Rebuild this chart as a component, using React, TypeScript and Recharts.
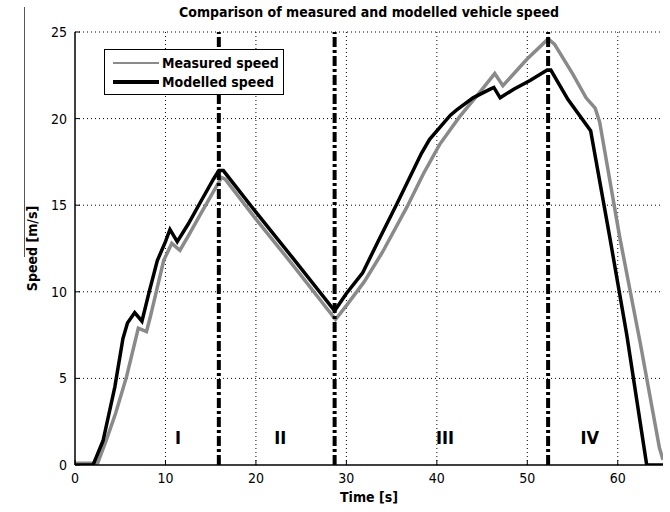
import React from 'react';
import {
  LineChart, Line, XAxis, YAxis, CartesianGrid, ReferenceLine, ReferenceDot,
} from 'recharts';

const measuredTime = [0, 2.5, 3.5, 4.5, 5.7, 7.0, 7.9, 8.3, 9.8, 10.7, 11.6, 12.5, 14, 16.2, 16.6, 20, 24, 28.8, 30, 32, 34, 36.7, 38.5, 40.3, 42.5, 44.4, 46.4, 47.3, 49.9, 52.3, 53, 55, 56.5, 57.5, 58, 60.2, 62.5, 64.6, 65];
const measuredSpeed = [0.1, 0.1, 1.5, 3.0, 5.1, 7.9, 7.7, 8.5, 11.8, 12.8, 12.4, 13.2, 14.6, 16.6, 16.5, 14.2, 11.6, 8.4, 9.2, 10.6, 12.3, 14.9, 16.8, 18.5, 20.1, 21.3, 22.6, 21.9, 23.4, 24.6, 24.3, 22.6, 21.2, 20.6, 19.8, 13.2, 7.0, 1.0, 0.3];

const modelledTime = [0, 2.0, 3.1, 4.4, 5.3, 5.8, 6.6, 7.4, 8.2, 9.1, 10.0, 10.5, 11.3, 12.5, 14.0, 15.3, 15.9, 16.4, 20, 24, 28.7, 30, 31.8, 33.5, 35.6, 37.0, 38.3, 39.2, 40.5, 41.5, 42.2, 44, 45.9, 46.3, 47.0, 48.5, 50.3, 52.2, 52.6, 54.5, 57.0, 59.1, 61, 63.2, 65];
const modelledSpeed = [0, 0, 1.4, 4.5, 7.3, 8.2, 8.8, 8.3, 10.0, 11.8, 12.9, 13.6, 12.9, 13.9, 15.3, 16.5, 17.0, 17.0, 14.6, 12.0, 8.9, 9.9, 11.1, 12.9, 15.1, 16.6, 18.0, 18.8, 19.6, 20.2, 20.5, 21.2, 21.7, 21.8, 21.2, 21.7, 22.2, 22.8, 22.8, 21.1, 19.3, 13.2, 7.5, 0, 0];

const phaseBoundaries = [15.9, 28.7, 52.3];
const phaseLabels = ['I', 'II', 'III', 'IV'];
const phaseLabelTime = [11.4, 22.7, 40.9, 56.9];
const phaseLabelSpeed = 1.6;

const xTicks = [0, 10, 20, 30, 40, 50, 60];
const yTicks = [0, 5, 10, 15, 20, 25];

const measuredData = measuredTime.map((t, i) => ({ t, v: measuredSpeed[i] }));
const modelledData = modelledTime.map((t, i) => ({ t, v: modelledSpeed[i] }));

const FONT = '"Liberation Sans Narrow", "DejaVu Sans Condensed", "Liberation Sans", Arial, sans-serif';

const LegendBox = () => (
  <div style={{
    position: 'absolute', left: 104, top: 49,
    width: 180, height: 46, border: '1px solid #000', background: '#fff',
    fontFamily: FONT, fontWeight: 'bold', fontSize: 14, color: '#000', boxSizing: 'border-box',
    padding: '3px 0 0 8px', zIndex: 2,
  }}>
    <div style={{ display: 'flex', alignItems: 'center', height: 19 }}>
      <svg width={47} height={6}><line x1={0} y1={3} x2={46} y2={3} stroke="#8a8a8a" strokeWidth={2} /></svg>
      <span style={{ marginLeft: 2 }}>Measured speed</span>
    </div>
    <div style={{ display: 'flex', alignItems: 'center', height: 19 }}>
      <svg width={47} height={6}><line x1={0} y1={3} x2={46} y2={3} stroke="#000" strokeWidth={4} /></svg>
      <span style={{ marginLeft: 2 }}>Modelled speed</span>
    </div>
  </div>
);

export default function App() {
  return (
    <div style={{ position: 'relative', width: 670, height: 512, background: '#fff' }}>
      <style>{`body{margin:0;background:#fff}`}</style>
      <div style={{ position: 'absolute', left: 24, top: 7, width: 1, height: 250, background: '#555', zIndex: 2 }} />
      <div style={{
        position: 'absolute', left: 75, width: 588, top: 4, textAlign: 'center',
        fontFamily: FONT, fontWeight: 'bold', fontSize: 14, color: '#000', zIndex: 2,
      }}>
        Comparison of measured and modelled vehicle speed
      </div>
      <LineChart width={670} height={512} margin={{ top: 32, right: 7, bottom: 17, left: 35 }}>
        <CartesianGrid stroke="#000" strokeDasharray="1 3" strokeWidth={1} horizontalValues={yTicks.slice(1)} verticalValues={xTicks.slice(1)} />
        <XAxis
          type="number" dataKey="t" domain={[0, 65]} ticks={xTicks} allowDataOverflow
          height={30} tickLine={{ stroke: '#000' }} tickSize={-5} tickMargin={13}
          axisLine={{ stroke: '#000', strokeWidth: 1.5 }}
          tick={{ fill: '#000', fontSize: 14, fontFamily: FONT }}
          label={{
            content: (p: any) => {
              const vb = p.viewBox;
              return (
                <text x={vb.x + vb.width / 2} y={502} textAnchor="middle"
                  fontFamily={FONT} fontWeight="bold" fontSize={14} fill="#000">Time [s]</text>
              );
            },
          }}
        />
        <YAxis
          type="number" domain={[0, 25]} ticks={yTicks} allowDataOverflow
          width={40} tickLine={{ stroke: '#000' }} tickSize={-5} tickMargin={13}
          axisLine={{ stroke: '#000', strokeWidth: 1.5 }}
          tick={{ fill: '#000', fontSize: 14, fontFamily: FONT }}
          label={{
            content: (p: any) => {
              const vb = p.viewBox;
              const cy = vb.y + vb.height / 2;
              return (
                <text x={37} y={cy} textAnchor="middle" transform={`rotate(-90, 37, ${cy})`}
                  fontFamily={FONT} fontWeight="bold" fontSize={14} fill="#000">Speed [m/s]</text>
              );
            },
          }}
        />
        <Line data={measuredData} dataKey="v" name="Measured speed" type="linear" stroke="#8a8a8a"
          strokeWidth={3.5} dot={false} isAnimationActive={false} />
        <Line data={modelledData} dataKey="v" name="Modelled speed" type="linear" stroke="#000"
          strokeWidth={3.5} dot={false} isAnimationActive={false} />
        {phaseBoundaries.map((x) => (
          <ReferenceLine key={x} x={x} stroke="#000" strokeWidth={4} strokeDasharray="10 3 3 3" />
        ))}
        {phaseLabels.map((lab, i) => (
          <ReferenceDot key={lab} x={phaseLabelTime[i]} y={phaseLabelSpeed} r={0} fill="none" stroke="none"
            label={{ value: lab, position: 'center', fill: '#000', fontSize: 18, fontWeight: 'bold', fontFamily: FONT }} />
        ))}
      </LineChart>
      <LegendBox />
    </div>
  );
}
